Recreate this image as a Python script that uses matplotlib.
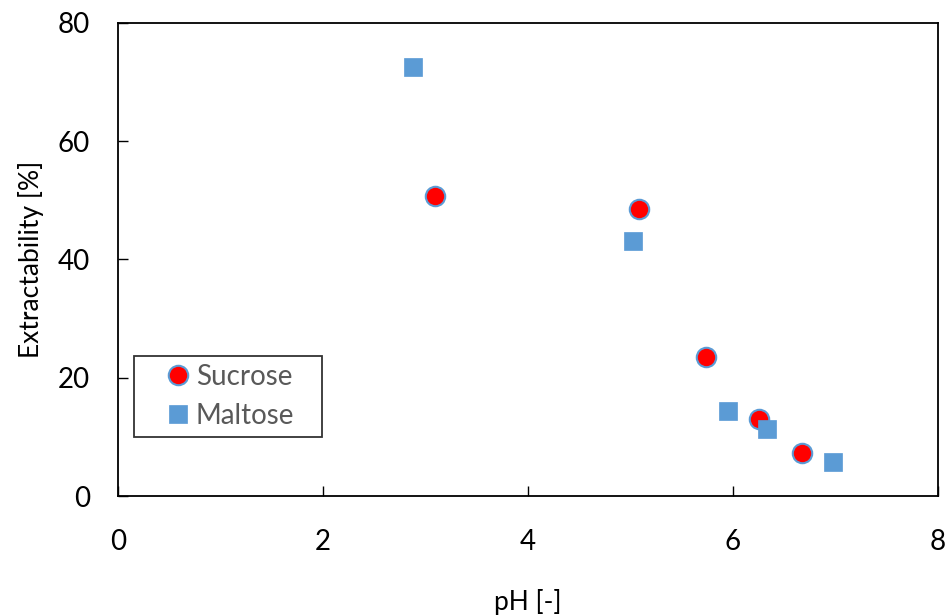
import matplotlib.pyplot as plt

# data
sucrose_ph = [3.09, 5.08, 5.74, 6.25, 6.67]
sucrose_ext = [50.8, 48.6, 23.5, 13.0, 7.3]

maltose_ph = [2.88, 5.02, 5.95, 6.33, 6.98]
maltose_ext = [72.6, 43.1, 14.3, 11.3, 5.8]

x_ticks = [0, 2, 4, 6, 8]
y_ticks = [0, 20, 40, 60, 80]

plt.rcParams["font.family"] = ["Lato", "DejaVu Sans"]

blue = "#5B9BD5"

fig = plt.figure(figsize=(9.5, 6.16), dpi=100)
ax = fig.add_axes([0.1242, 0.1948, 0.8632, 0.7679])

ax.plot(sucrose_ph, sucrose_ext, linestyle="none", marker="o", markersize=14,
        markerfacecolor="red", markeredgecolor=blue, markeredgewidth=1.5,
        label="Sucrose", zorder=3)
ax.plot(maltose_ph, maltose_ext, linestyle="none", marker="s", markersize=13.5,
        markerfacecolor=blue, markeredgecolor=blue, markeredgewidth=0.5,
        label="Maltose", zorder=4)

ax.set_xlim(0, 8)
ax.set_ylim(0, 80)
ax.set_xticks(x_ticks)
ax.set_yticks(y_ticks)
ax.tick_params(axis="both", direction="in", length=7, width=1, labelsize=20,
               colors="black")
ax.tick_params(axis="y", pad=20)
ax.tick_params(axis="x", pad=24)
for s in ax.spines.values():
    s.set_linewidth(1.3)
    s.set_color("black")

ax.set_xlabel("pH [-]", fontsize=19, labelpad=24)
ax.set_ylabel("Extractability [%]", fontsize=19, labelpad=10)

# legend box sized like the original (Excel-style wide frame)
leg = ax.legend(loc="lower left", bbox_to_anchor=(0.0195, 0.125, 0.229, 0.169),
                mode="expand", borderaxespad=0, fontsize=20,
                frameon=True, fancybox=False, edgecolor="black",
                handletextpad=-0.65, borderpad=0.28, labelspacing=0.47,
                handlelength=2.6)
leg.get_frame().set_linewidth(1.3)
for t in leg.get_texts():
    t.set_color("#595959")

fig.savefig("out.png", dpi=100)
